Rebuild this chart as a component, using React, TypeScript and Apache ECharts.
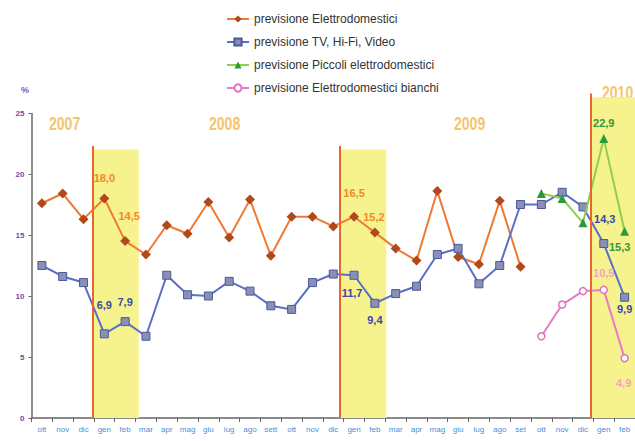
import React, { useEffect, useRef } from "react";
import * as echarts from "echarts";

const months = [
  "ott", "nov", "dic",
  "gen", "feb", "mar", "apr", "mag", "giu", "lug", "ago", "sett", "ott", "nov", "dic",
  "gen", "feb", "mar", "apr", "mag", "giu", "lug", "ago", "set", "ott", "nov", "dic",
  "gen", "feb",
];

const yTicks = [0, 5, 10, 15, 20, 25];

const elettrodomestici = [
  17.6, 18.4, 16.3, 18.0, 14.5, 13.4, 15.8, 15.1, 17.7, 14.8, 17.9, 13.3, 16.5, 16.5, 15.7,
  16.5, 15.2, 13.9, 12.9, 18.6, 13.2, 12.6, 17.8, 12.4, null, null, null, null, null,
];
const tvHifiVideo = [
  12.5, 11.6, 11.1, 6.9, 7.9, 6.7, 11.7, 10.1, 10.0, 11.2, 10.4, 9.2, 8.9, 11.1, 11.8,
  11.7, 9.4, 10.2, 10.8, 13.4, 13.9, 11.0, 12.5, 17.5, 17.5, 18.5, 17.3, 14.3, 9.9,
];
const piccoli = [
  null, null, null, null, null, null, null, null, null, null, null, null, null, null, null,
  null, null, null, null, null, null, null, null, null, 18.4, 18.0, 16.0, 22.9, 15.3,
];
const bianchi = [
  null, null, null, null, null, null, null, null, null, null, null, null, null, null, null,
  null, null, null, null, null, null, null, null, null, 6.7, 9.3, 10.4, 10.5, 4.9,
];

const seriesNames = [
  "previsione Elettrodomestici",
  "previsione TV, Hi-Fi, Video",
  "previsione Piccoli elettrodomestici",
  "previsione Elettrodomestici bianchi",
];

const years = ["2007", "2008", "2009", "2010"];

// labelled points: index -> pixel offset of the label centre
const elettroLabels: Record<number, [number, number]> = { 3: [0, -20], 4: [4, -25], 15: [0, -24], 16: [-1, -16] };
const tvLabels: Record<number, [number, number]> = { 3: [0, -29], 4: [0, -20], 15: [-2, 18], 16: [0, 17], 27: [1, -25], 28: [0, 12] };
const piccoliLabels: Record<number, [number, number]> = { 27: [0, -16], 28: [-5, 16] };
const bianchiLabels: Record<number, [number, number]> = { 27: [0, -17], 28: [-1, 25] };

const FONT = '"Liberation Sans", Arial, sans-serif';

function withLabels(values: (number | null)[], labels: Record<number, [number, number]>, color: string) {
  return values.map((v, i) => {
    if (v == null) return null;
    const off = labels[i];
    if (!off) return v;
    return {
      value: v,
      label: {
        show: true,
        position: "inside",
        offset: off,
        color,
        fontSize: 11,
        fontWeight: "bold",
        fontFamily: FONT,
        formatter: (p: any) => Number(p.value).toFixed(1).replace(".", ","),
      },
    };
  });
}

function yearText(text: string, x: number, y: number) {
  return {
    type: "text",
    x,
    y,
    scaleX: 0.78,
    style: { text, fill: "#f5c470", fontSize: 18, fontWeight: "bold", verticalAlign: "middle", fontFamily: FONT },
  };
}

export default function App() {
  const ref = useRef<HTMLDivElement>(null);
  useEffect(() => {
    if (!ref.current) return;
    const chart = echarts.init(ref.current, null, { renderer: "svg" });
    const option: any = {
      animation: false,
      backgroundColor: "#ffffff",
      textStyle: { fontFamily: FONT },
      grid: { left: 31.5, right: -3.5, top: 88.6, bottom: 24 },
      legend: {
        data: seriesNames,
        orient: "vertical",
        left: 221,
        top: 8,
        itemGap: 11,
        itemWidth: 22,
        itemHeight: 9,
        textStyle: { fontSize: 12, color: "#333", fontFamily: FONT },
      },
      graphic: [
        { type: "text", x: 21, y: 90, style: { text: "%", fill: "#8a5aa8", fontSize: 9, fontWeight: "bold", verticalAlign: "middle", fontFamily: FONT } },
        yearText(years[0], 49, 123),
        yearText(years[1], 209, 123),
        yearText(years[2], 454, 123),
        yearText(years[3], 602, 92),
      ],
      xAxis: [
        {
          type: "category",
          data: months,
          boundaryGap: true,
          axisLine: { lineStyle: { color: "#666", width: 1.5 } },
          axisTick: { show: true, length: 4, lineStyle: { color: "#666" } },
          axisLabel: { interval: 0, fontSize: 8, color: "#4a8fd6", margin: 7, fontFamily: FONT },
        },
        { type: "value", min: 0, max: 29, show: false },
      ],
      yAxis: {
        type: "value",
        min: 0,
        max: 27,
        interval: 5,
        axisLine: { show: false },
        axisTick: { show: true, length: 3, customValues: yTicks, lineStyle: { color: "#666" } },
        axisLabel: { customValues: yTicks, fontSize: 8, color: "#7b4a9e", fontWeight: "bold", margin: 7, fontFamily: FONT },
        splitLine: { show: false },
      },
      series: [
        {
          type: "line",
          name: "_marks",
          xAxisIndex: 1,
          yAxisIndex: 0,
          data: [],
          silent: true,
          z: 1,
          markArea: {
            silent: true,
            itemStyle: { color: "#f6f28e" },
            data: [
              [{ coord: [2.95, 0] }, { coord: [5.15, 22] }],
              [{ coord: [14.8, 0] }, { coord: [17.05, 22] }],
              [{ coord: [26.85, 0] }, { coord: [29, 26.3] }],
            ],
          },
          markLine: {
            silent: true,
            symbol: "none",
            label: { show: false },
            lineStyle: { type: "solid", color: "#e8662a", width: 2 },
            data: [
              [{ coord: [2.95, 0] }, { coord: [2.95, 22.3] }],
              [{ coord: [14.8, 0] }, { coord: [14.8, 22.3] }],
              [{ coord: [26.85, 0] }, { coord: [26.85, 26.6] }],
              [{ coord: [0, 0], lineStyle: { color: "#6a6a6a", width: 1.5 } }, { coord: [0, 25] }],
            ],
          },
        },
        {
          type: "line",
          name: seriesNames[0],
          z: 3,
          data: withLabels(elettrodomestici, elettroLabels, "#f08a2a"),
          symbol: "diamond",
          symbolSize: 10,
          lineStyle: { color: "#f07830", width: 2 },
          itemStyle: { color: "#b04a1a" },
        },
        {
          type: "line",
          name: seriesNames[1],
          z: 3,
          data: withLabels(tvHifiVideo, tvLabels, "#3a4aa0"),
          symbol: "rect",
          symbolSize: 8,
          lineStyle: { color: "#5a6ec8", width: 2 },
          itemStyle: { color: "#8a8fb5", borderColor: "#4a5a9a", borderWidth: 1 },
        },
        {
          type: "line",
          name: seriesNames[2],
          z: 4,
          data: withLabels(piccoli, piccoliLabels, "#2f9a35"),
          symbol: "triangle",
          symbolSize: 9,
          lineStyle: { color: "#8ed04a", width: 2 },
          itemStyle: { color: "#2a9a3a" },
        },
        {
          type: "line",
          name: seriesNames[3],
          z: 4,
          data: withLabels(bianchi, bianchiLabels, "#f2a2c8"),
          symbol: "circle",
          symbolSize: 7,
          lineStyle: { color: "#e87ac8", width: 2 },
          itemStyle: { color: "#ffffff", borderColor: "#e070c0", borderWidth: 1.5 },
        },
      ],
    };
    chart.setOption(option);
    return () => chart.dispose();
  }, []);
  return <div ref={ref} style={{ width: 635, height: 442, position: "absolute", left: 0, top: 0 }} />;
}
